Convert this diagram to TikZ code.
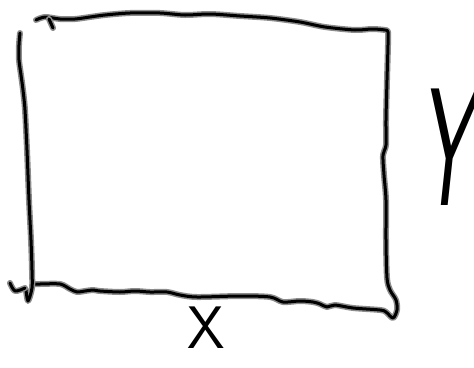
\documentclass[tikz,border=0pt]{standalone}
\tikzset{
  pen/.style={line width=3pt, black, line cap=round, line join=round,
    preaction={draw=black!45, line width=6pt, line cap=round, line join=round}},
  label/.style={inner sep=0pt, font=\sffamily}
}
\begin{document}
\begin{tikzpicture}[x=1pt, y=-1pt]
    \useasboundingbox (0,0) rectangle (474,367);

    \coordinate (TL) at (36,20);
    \coordinate (TR) at (388,32);
    \coordinate (BR) at (393,318);
    \coordinate (BL) at (33,284);

    % top, right and bottom edges
    \draw[pen] plot[smooth, tension=0.5] coordinates {(TL) (45,17) (60,19) (75,19) (90,17) (105,15) (130,13)
        (160,13) (185,15) (210,14) (240,16) (270,18) (300,22) (325,27) (355,30) (372,29)
        (385,30) (TR) (388,45) (387,80) (386,120) (386,145) (383,155) (384,175) (386,200)
        (386,240) (387,278) (390,290) (396,300) (397,310) (BR) (386,312) (380,310)
        (353,308) (335,305) (327,307) (320,304) (313,302) (300,301) (283,302) (270,297)
        (240,296) (197,297) (180,295) (167,292) (150,292) (135,291) (120,292) (100,291)
        (93,290) (85,291) (77,292) (70,289) (60,284) (40,284) (BL)};
    \draw[pen] (49,19) -- (53,28);

    % left edge
    \draw[pen] plot[smooth, tension=0.5] coordinates {(20,33) (19,45) (19,60) (21,75) (23,90) (25,110)
        (27,150) (29,200) (31,240) (32,270) (32,288) (28,301) (26,290)};
    \draw[pen] plot[smooth, tension=0.5] coordinates {(10,283) (15,291) (25,288)};

    % Labels
    \node[label, anchor=north, font=\sffamily\fontsize{60}{60}\selectfont] (xlab) at (206,307) {X};
    \node[label, font=\sffamily\itshape\fontsize{168}{168}\selectfont] (ylab) at (445,147) {\scalebox{0.5}[1]{Y}};
\end{tikzpicture}
\end{document}
